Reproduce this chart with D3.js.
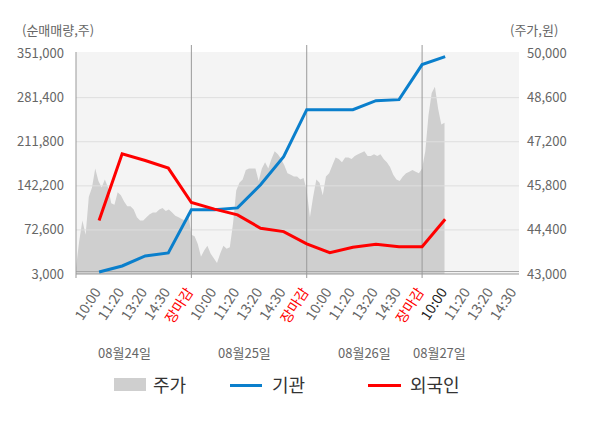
<!DOCTYPE html>
<html>
<head>
<meta charset="utf-8">
<script src="https://cdn.jsdelivr.net/npm/d3@7"></script>
<style>
  body { margin: 0; background: #fff; }
  svg text { font-family: "Noto Sans CJK KR", "Noto Sans", sans-serif; }
</style>
</head>
<body>
<div id="chart"></div>
<script>
// x axis: 5 tick slots per trading day
const days = ["08월24일", "08월25일", "08월26일", "08월27일"]
const dayLabelSlots = [2.1, 7.3, 12.5, 15.75]
const tickLabels = ["10:00", "11:20", "13:20", "14:30", "장마감",
    "10:00", "11:20", "13:20", "14:30", "장마감",
    "10:00", "11:20", "13:20", "14:30", "장마감",
    "10:00", "11:20", "13:20", "14:30"]

const volTicks = [3000, 72600, 142200, 211800, 281400, 351000]
const priceTicks = [43000, 44400, 45800, 47200, 48600, 50000]

// net buying volume, one point per tick slot (10:00 ... 장마감)
const instVol = [6200, 15700, 31500, 36200, 104300,
    104300, 107400, 143800, 188100, 262400,
    262400, 262400, 276700, 278300, 333600,
    346300]
const foreignVol = [87300, 192800, 182200, 170200, 115800,
    105400, 96300, 75300, 69900, 50500,
    36700, 45300, 50000, 46200, 46200,
    89500]

// intraday price, 36 samples per full day
const priceDay1 = [43200, 44050, 44700, 44250, 45450, 45750, 46350, 45950, 45750, 46000, 45750, 45250,
    45200, 45600, 45500, 45300, 45150, 45150, 45050, 44800, 44700, 44700, 44800, 44900,
    44950, 44950, 45050, 45100, 45000, 45050, 44950, 44850, 44800, 44750, 44700, 44950]
const priceDay2 = [44250, 44200, 43950, 43550, 43750, 43900, 43650, 43500, 43350, 43650, 43900, 43800,
    43850, 44600, 45650, 45900, 46000, 46300, 46350, 46350, 46350, 45950, 46350, 46550,
    46350, 46650, 46900, 46800, 46650, 46450, 46200, 46150, 46100, 46100, 46000, 46050]
const priceDay3 = [45650, 44800, 45450, 46000, 45900, 45500, 46100, 46200, 46450, 46700, 46650, 46550,
    46700, 46700, 46650, 46750, 46800, 46850, 46900, 46750, 46750, 46800, 46750, 46800,
    46650, 46550, 46400, 46150, 46000, 45950, 46100, 46200, 46250, 46300, 46250, 46200]
const priceDay4 = [46350, 46900, 48050, 48750, 48950, 48250, 47750, 47800]

const W = 600, H = 428
const plotLeft = 76, plotRight = 519, plotTop = 53.6, plotBottom = 274
const samplesPerDay = 36

const svg = d3.select("#chart").append("svg")
    .attr("width", W)
    .attr("height", H)

const x = d3.scaleLinear().domain([0, 19.2]).range([plotLeft, plotRight])
const yVol = d3.scaleLinear().domain([3000, 351000]).range([plotBottom, plotTop])
const yPrice = d3.scaleLinear().domain([43000, 50000]).range([plotBottom, plotTop])

// plot background
svg.append("rect")
    .attr("x", plotLeft).attr("y", 52)
    .attr("width", plotRight - plotLeft).attr("height", plotBottom - 52)
    .attr("fill", "#f4f4f4")

// price area
const priceData = []
;[priceDay1, priceDay2, priceDay3, priceDay4].forEach((arr, d) => {
    arr.forEach((p, i) => priceData.push({ s: d * 5 + i * 5 / samplesPerDay, p: p }))
})
const area = d3.area()
    .x(d => x(d.s))
    .y0(plotBottom)
    .y1(d => yPrice(d.p))
svg.append("path")
    .datum(priceData)
    .attr("fill", "#cfcfcf")
    .attr("d", area)

// grid lines
svg.append("g").selectAll("line")
    .data(volTicks.slice(1, -1))
    .enter().append("line")
    .attr("x1", plotLeft).attr("x2", plotRight)
    .attr("y1", d => yVol(d)).attr("y2", d => yVol(d))
    .attr("stroke", "#dedede")
    .attr("stroke-width", 1)

svg.append("line")
    .attr("x1", plotLeft).attr("x2", plotRight)
    .attr("y1", plotBottom - 2.5).attr("y2", plotBottom - 2.5)
    .attr("stroke", "#a8a8a8")
svg.append("line")
    .attr("x1", plotLeft).attr("x2", plotRight)
    .attr("y1", plotBottom).attr("y2", plotBottom)
    .attr("stroke", "#999")

// day separators
svg.append("g").selectAll("line")
    .data([5, 10, 15])
    .enter().append("line")
    .attr("x1", d => x(d)).attr("x2", d => x(d))
    .attr("y1", 45).attr("y2", 278)
    .attr("stroke", "#999")
svg.append("line")
    .attr("x1", plotLeft).attr("x2", plotLeft)
    .attr("y1", 52).attr("y2", 278)
    .attr("stroke", "#999")

// lines
const line = yScale => d3.line()
    .x((d, i) => x(i + 1))
    .y(d => yScale(d))

svg.append("path")
    .datum(instVol)
    .attr("fill", "none")
    .attr("stroke", "#0a7fcc")
    .attr("stroke-width", 3)
    .attr("d", line(yVol))

svg.append("path")
    .datum(foreignVol)
    .attr("fill", "none")
    .attr("stroke", "#ff0000")
    .attr("stroke-width", 3)
    .attr("d", line(yVol))

// y axis labels
svg.append("g").selectAll("text")
    .data(volTicks)
    .enter().append("text")
    .attr("x", 64).attr("y", d => yVol(d))
    .attr("dy", "0.35em")
    .attr("text-anchor", "end")
    .attr("font-size", 13)
    .attr("fill", "#666")
    .text(d => d3.format(",")(d))

svg.append("g").selectAll("text")
    .data(priceTicks)
    .enter().append("text")
    .attr("x", 527).attr("y", d => yPrice(d))
    .attr("dy", "0.35em")
    .attr("font-size", 13)
    .attr("fill", "#666")
    .text(d => d3.format(",")(d))

svg.append("text")
    .attr("x", 22).attr("y", 35)
    .attr("font-size", 13).attr("fill", "#666")
    .text("(순매매량,주)")
svg.append("text")
    .attr("x", 510).attr("y", 35)
    .attr("font-size", 13).attr("fill", "#666")
    .text("(주가,원)")

// x tick labels
svg.append("g").selectAll("text")
    .data(tickLabels)
    .enter().append("text")
    .attr("transform", (d, i) => "translate(" + (x(i + 1) + 2.5) + ",292) rotate(-57)")
    .attr("text-anchor", "end")
    .attr("font-size", 14)
    .attr("fill", (d, i) => d == "장마감" ? "#ff0000" : (i == 15 ? "#222" : "#666"))
    .text(d => d)

svg.append("g").selectAll("text")
    .data(days)
    .enter().append("text")
    .attr("x", (d, i) => x(dayLabelSlots[i]))
    .attr("y", 358)
    .attr("text-anchor", "middle")
    .attr("font-size", 13)
    .attr("fill", "#666")
    .text(d => d)

// legend
const legend = svg.append("g")
legend.append("rect")
    .attr("x", 114).attr("y", 378)
    .attr("width", 32).attr("height", 13)
    .attr("fill", "#cfcfcf")
legend.append("line")
    .attr("x1", 230).attr("x2", 262).attr("y1", 385.5).attr("y2", 385.5)
    .attr("stroke", "#0a7fcc").attr("stroke-width", 3)
legend.append("line")
    .attr("x1", 368).attr("x2", 401).attr("y1", 385.5).attr("y2", 385.5)
    .attr("stroke", "#ff0000").attr("stroke-width", 3)
legend.selectAll("text")
    .data([["주가", 153], ["기관", 272], ["외국인", 410]])
    .enter().append("text")
    .attr("x", d => d[1]).attr("y", 392)
    .attr("font-size", 18)
    .attr("fill", "#333")
    .text(d => d[0])
</script>
</body>
</html>
